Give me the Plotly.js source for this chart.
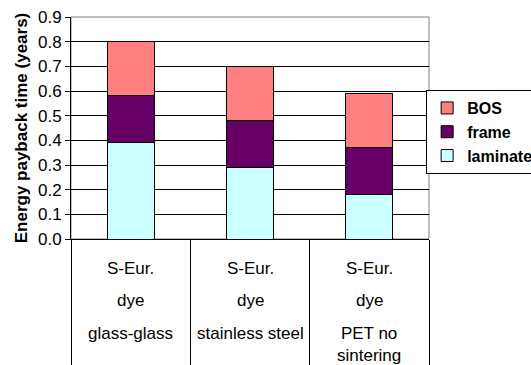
<!DOCTYPE html>
<html><head><meta charset="utf-8">
<script src="https://cdn.plot.ly/plotly-3.0.1.min.js"></script>
<style>html,body{margin:0;padding:0;background:#fff}</style>
</head><body>
<div id="chart" style="width:531px;height:365px"></div>
<script>
var categories = ["glass-glass", "stainless steel", "PET no sintering"];
var line1 = ["S-Eur.", "S-Eur.", "S-Eur."];
var line2 = ["dye", "dye", "dye"];
var line3 = ["glass-glass", "stainless steel", "PET no<br>sintering"];
var laminate = [0.39, 0.29, 0.18];
var frame = [0.19, 0.19, 0.19];
var bos = [0.22, 0.22, 0.22];

var font = "Arial, 'Liberation Sans', sans-serif";
function tr(name, vals, color) {
  return {type: "bar", name: name, x: categories, y: vals,
    marker: {color: color, line: {color: "#000", width: 1}}, hoverinfo: "none"};
}
var data = [
  tr("laminate", laminate, "#CCFFFF"),
  tr("frame", frame, "#660066"),
  tr("BOS", bos, "#FF8080")
];
var ann = [];
categories.forEach(function (c, i) {
  [[line1[i], -18], [line2[i], -50], [line3[i], -83]].forEach(function (p) {
    ann.push({xref: "x", yref: "paper", x: c, y: 0, yanchor: "top", yshift: p[1],
      text: p[0], showarrow: false, font: {family: font, size: 17, color: "#000"}});
  });
});
var layout = {
  width: 531, height: 365,
  margin: {l: 71, r: 102, t: 17, b: 126, autoexpand: false},
  paper_bgcolor: "#fff", plot_bgcolor: "#fff",
  barmode: "stack", bargap: 0.606,
  font: {family: font, color: "#000", size: 17},
  showlegend: true,
  legend: {x: 0.992, y: 0.671, xanchor: "left", yanchor: "top", traceorder: "reversed",
    bordercolor: "#000", borderwidth: 1, bgcolor: "#fff",
    font: {family: font, size: 16, color: "#000", weight: "bold"}},
  xaxis: {type: "category", showticklabels: false, ticks: "outside", tickson: "boundaries",
    ticklen: 126, tickcolor: "#000", tickwidth: 1, showline: true, linecolor: "#000",
    linewidth: 1, showgrid: false, zeroline: false, fixedrange: true},
  yaxis: {range: [0, 0.9], dtick: 0.1, tick0: 0, tickformat: ".1f", ticks: "outside",
    ticklen: 5, tickcolor: "#000", showline: true, linecolor: "#000", linewidth: 1,
    showgrid: true, gridcolor: "#000", gridwidth: 1, zeroline: false,
    tickfont: {family: font, size: 17, color: "#000"},
    title: {text: "Energy payback time (years)", standoff: 6,
      font: {family: font, size: 17, color: "#000", weight: "bold"}}},
  annotations: ann,
  shapes: [{type: "rect", xref: "paper", yref: "paper", x0: 0, x1: 1, y0: 0, y1: 1,
    line: {color: "#808080", width: 1}, layer: "below"}]
};
Plotly.newPlot("chart", data, layout, {staticPlot: true, displayModeBar: false});
</script>
</body></html>
